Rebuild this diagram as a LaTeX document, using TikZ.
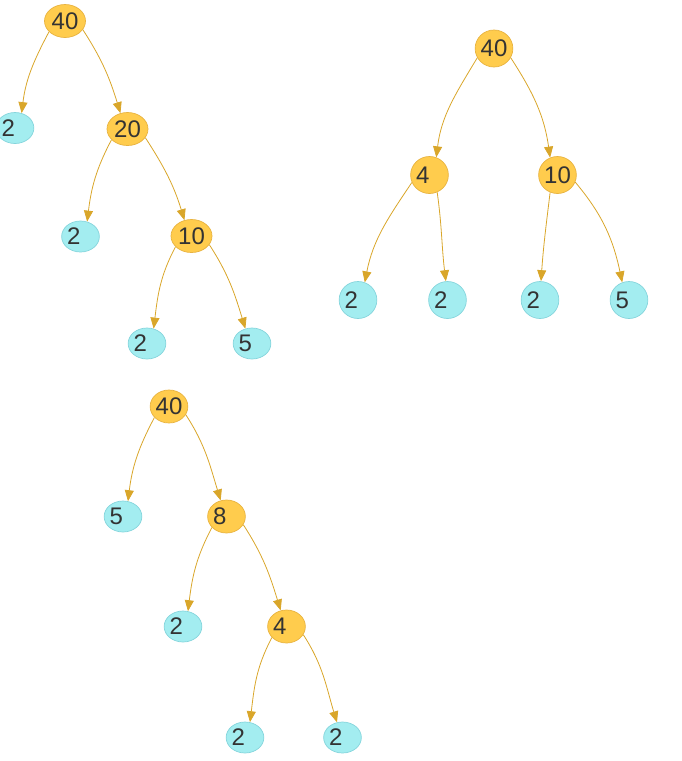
\documentclass[tikz,border=0pt]{standalone}
\usepackage{fontspec}
\setmainfont{Liberation Sans}
\usetikzlibrary{shapes.geometric,arrows.meta}
\definecolor{ofill}{HTML}{FFCC4D}
\definecolor{oline}{HTML}{E8B340}
\definecolor{cfill}{HTML}{A3EDF0}
\definecolor{cline}{HTML}{85D5DC}
\definecolor{ecol}{HTML}{D9A62A}
\definecolor{tcol}{HTML}{333333}
\newcommand{\dg}[1]{\makebox[1.112em][l]{#1}}
\tikzset{
  nd/.style={ellipse, inner sep=0pt, text=tcol, font=\fontsize{24}{27}\selectfont, line width=0.7pt},
  inner/.style={nd, fill=ofill, draw=oline},
  leaf/.style={nd, fill=cfill, draw=cline},
  tai/.style={minimum width=41pt, minimum height=33pt},
  tal/.style={minimum width=37pt, minimum height=31pt},
  tb/.style={minimum width=34pt, minimum height=37pt},
  tci/.style={minimum width=37pt, minimum height=33pt},
  tcl/.style={minimum width=36pt, minimum height=31pt},
  edge/.style={draw=ecol, line width=0.8pt, -{Triangle[length=11pt,width=9pt]}},
}
\begin{document}
\begin{tikzpicture}[x=1pt,y=1pt]
\useasboundingbox (0,0) rectangle (682,-761);
% tree 1
\node[inner,tai] (a40) at (65,-21) {\dg{40}};
\node[leaf,tal] (a2a) at (15,-128) {\dg{2}};
\node[inner,tai] (a20) at (127.5,-129) {\dg{20}};
\node[leaf,tal] (a2b) at (80.5,-236.5) {\dg{2}};
\node[inner,tai] (a10) at (191.5,-236) {\dg{10}};
\node[leaf,tal] (a2c) at (147,-343.5) {\dg{2}};
\node[leaf,tal] (a5) at (252,-343.5) {\dg{5}};
\draw[edge] (a40.214) to[out=242,in=83] (a2a.66);
\draw[edge] (a40.334) to[out=-57,in=107] (a20.114);
\draw[edge] (a20.214) to[out=242,in=83] (a2b.66);
\draw[edge] (a20.334) to[out=-57,in=107] (a10.114);
\draw[edge] (a10.214) to[out=242,in=83] (a2c.66);
\draw[edge] (a10.334) to[out=-57,in=107] (a5.114);
% tree 2
\node[inner,tb] (b40) at (494,-48.5) {\dg{40}};
\node[inner,tb] (b4) at (429.5,-175) {\dg{4}};
\node[inner,tb] (b10) at (557.5,-175) {\dg{10}};
\node[leaf,tb] (b2a) at (358,-300) {\dg{2}};
\node[leaf,tb] (b2b) at (447.5,-300) {\dg{2}};
\node[leaf,tb] (b2c) at (540,-300) {\dg{2}};
\node[leaf,tb] (b5) at (629,-300) {\dg{5}};
\draw[edge] (b40.209) to[out=239,in=83] (b4.69);
\draw[edge] (b40.331) to[out=-57,in=98] (b10.113);
\draw[edge] (b4.203) to[out=236,in=79] (b2a.69);
\draw[edge] (b4.294) to[out=-82,in=97] (b2b.95);
\draw[edge] (b10.247) to[out=263,in=86] (b2c.87);
\draw[edge] (b10.338) to[out=-50,in=102] (b5.111);
% tree 3
\node[inner,tci] (c40) at (169,-406.5) {\dg{40}};
\node[leaf,tcl] (c5) at (123,-516.5) {\dg{5}};
\node[inner,tci] (c8) at (226.5,-516.5) {\dg{8}};
\node[leaf,tcl] (c2a) at (183,-626.5) {\dg{2}};
\node[inner,tci] (c4) at (286.5,-626.5) {\dg{4}};
\node[leaf,tcl] (c2b) at (245,-737.5) {\dg{2}};
\node[leaf,tcl] (c2c) at (342.5,-737.5) {\dg{2}};
\draw[edge] (c40.217) to[out=242,in=83] (c5.72);
\draw[edge] (c40.334) to[out=-57,in=107] (c8.110);
\draw[edge] (c8.217) to[out=242,in=83] (c2a.72);
\draw[edge] (c8.334) to[out=-57,in=107] (c4.110);
\draw[edge] (c4.217) to[out=242,in=83] (c2b.72);
\draw[edge] (c4.334) to[out=-57,in=107] (c2c.110);
\end{tikzpicture}
\end{document}
